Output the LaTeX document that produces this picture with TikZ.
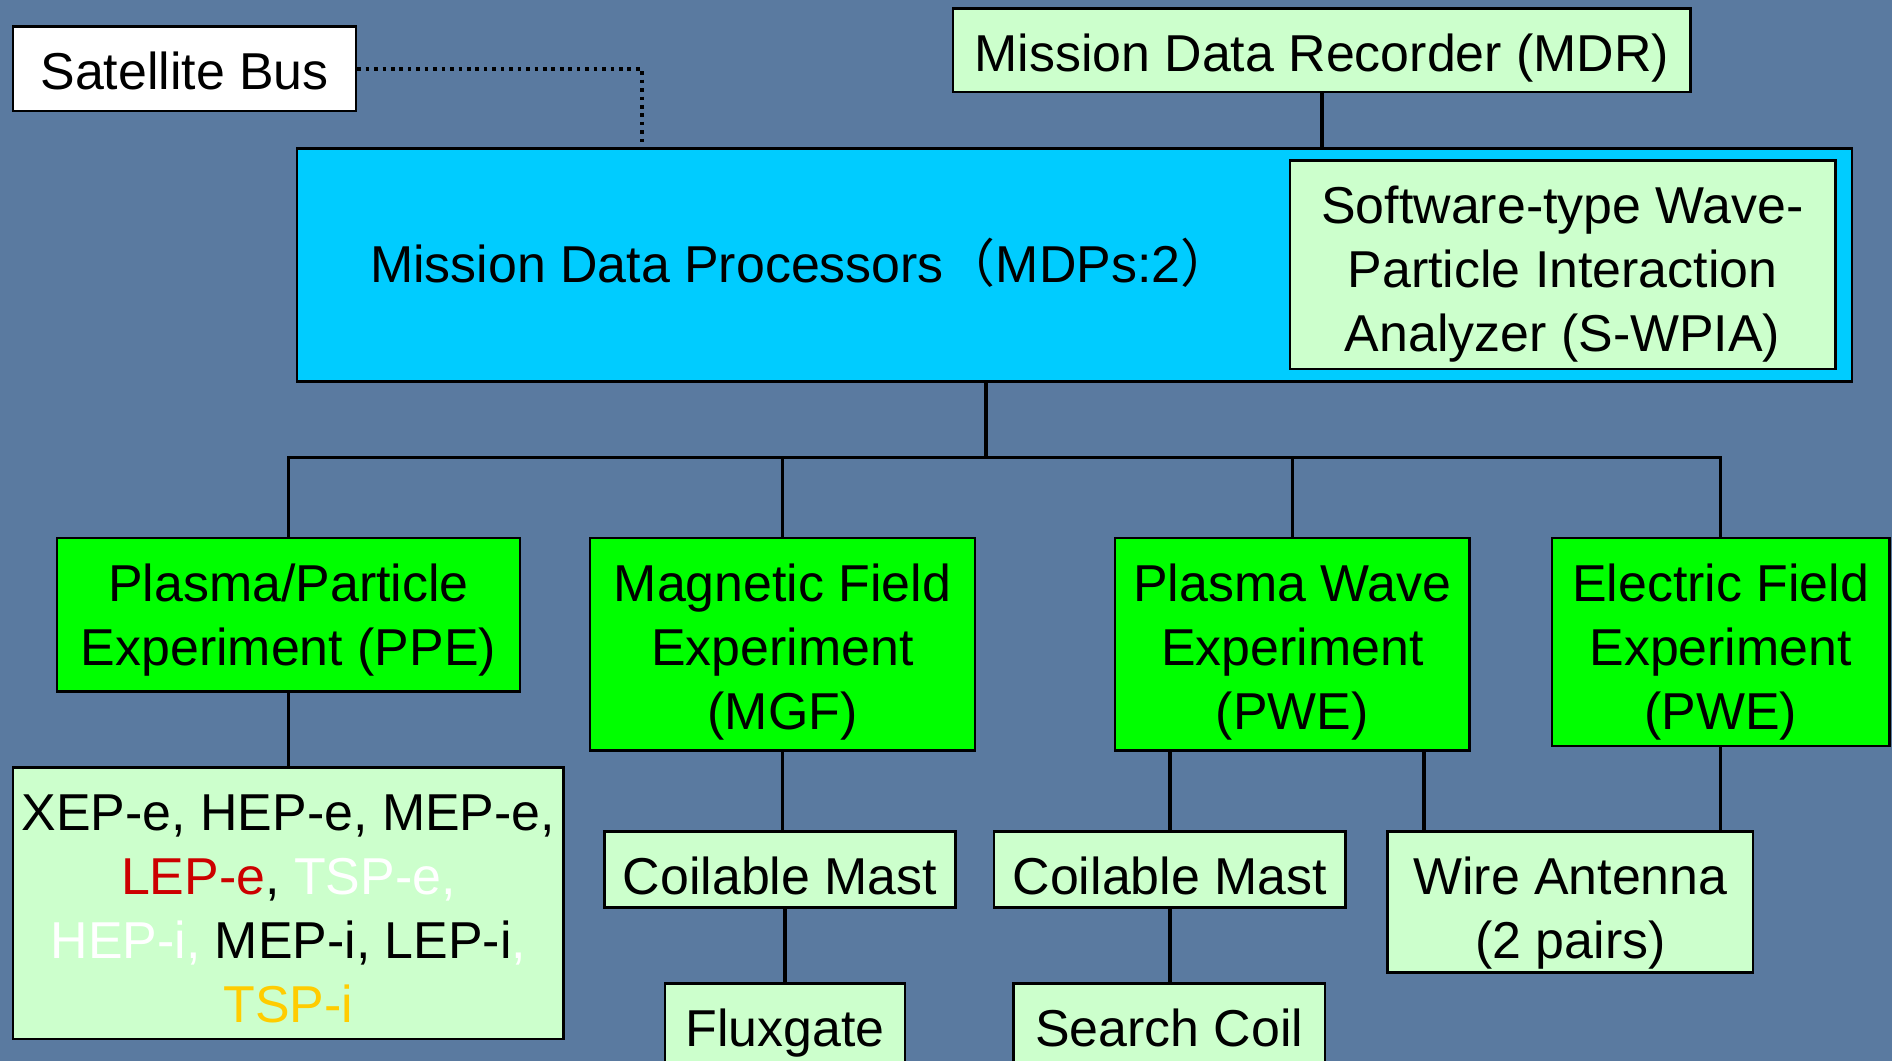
\documentclass[tikz,border=0pt]{standalone}
\usepackage{fontspec}
\setmainfont{Liberation Sans}
\newfontfamily\cjk{Noto Sans CJK SC}
\definecolor{bg}{RGB}{90,122,160}
\definecolor{cyanbox}{RGB}{0,204,255}
\definecolor{greenbox}{RGB}{0,255,0}
\definecolor{palebox}{RGB}{204,255,204}
\definecolor{lepred}{RGB}{204,0,0}
\definecolor{tspgold}{RGB}{255,204,0}
\newcommand\cell[3]{\begin{minipage}[c][#2][t]{#1}\centering\rule{0pt}{26.2pt}#3\end{minipage}}

\begin{document}
\begin{tikzpicture}[x=.5pt,y=-.5pt,
 box/.style={draw=black,line width=1pt,inner sep=0pt,font=\fontsize{21.5}{26.5}\selectfont},
 inst/.style={box,fill=greenbox},
 part/.style={box,fill=palebox},
 link/.style={line width=1.5pt}]
 \useasboundingbox (0,0) rectangle (1568,879);
 \clip (0,0) rectangle (1568,879);
 \fill[bg] (0,0) rectangle (1568,879);
 \node[box,fill=white] (sbus) at (153,57) {\cell{142pt}{35pt}{Satellite Bus}};
 \node[part] (mdr) at (1095.5,41.5) {\cell{305.5pt}{34.5pt}{Mission Data Recorder (MDR)}};
 \node[box,fill=cyanbox,minimum width=644.5pt,minimum height=96.5pt] (mdp) at (890.5,219.5) {};
 \node[font=\fontsize{21.5}{26.5}\selectfont] (mdptext) at (664,218) {Mission Data Processors{\cjk （}MDPs:2{\cjk ）}};
 \node[part] (swpia) at (1295,219.5) {\cell{226pt}{86.5pt}{Software-type Wave-\\Particle Interaction\\Analyzer (S-WPIA)}};
 \node[inst] (ppe) at (239,509.5) {\cell{192pt}{63.5pt}{Plasma/Particle\\Experiment (PPE)}};
 \node[inst] (mgf) at (648.5,534) {\cell{159.5pt}{88pt}{Magnetic Field\\Experiment\\(MGF)}};
 \node[inst] (pwe) at (1071,534) {\cell{147pt}{88pt}{Plasma Wave\\Experiment\\(PWE)}};
 \node[inst] (efe) at (1426,532) {\cell{140pt}{86pt}{Electric Field\\Experiment\\(PWE)}};
 \node[part] (list) at (239,748.5) {\cell{228pt}{112.5pt}{XEP-e, HEP-e, MEP-e,\\\textcolor{lepred}{LEP-e}, \textcolor{white}{TSP-e,}\\\textcolor{white}{HEP-i,} MEP-i, LEP-i\textcolor{white}{,}\\\textcolor{tspgold}{TSP-i}}};
 \node[part] (cmmgf) at (646.5,720.5) {\cell{145.5pt}{31.5pt}{Coilable Mast}};
 \node[part] (flux) at (650.5,853) {\cell{99.5pt}{38pt}{Fluxgate}};
 \node[part] (cmpwe) at (969.5,720.5) {\cell{145.5pt}{31.5pt}{Coilable Mast}};
 \node[part] (coil) at (969,853) {\cell{129pt}{38pt}{Search Coil}};
 \node[part] (wire) at (1301.5,747.5) {\cell{151.5pt}{58.5pt}{Wire Antenna\\(2 pairs)}};
 \coordinate (tap) at (532,123);
 \coordinate (bus) at (817,379);
 \coordinate (wtap) at (1180,689);
 \draw[dotted,line width=1.5pt] (sbus.east) -| (tap);
 \draw[link] (mdr.south) -- (mdr.south |- mdp.north);
 \draw[link] (bus |- mdp.south) -- (bus);
 \draw[link] (ppe.north) |- (bus) -| (efe.north);
 \draw[link] (mgf.north) -- (mgf.north |- bus);
 \draw[link] (pwe.north) -- (pwe.north |- bus);
 \draw[link] (ppe.south) -- (ppe.south |- list.north);
 \draw[link] (mgf.south) -- (mgf.south |- cmmgf.north);
 \draw[link] (cmmgf.south -| flux.north) -- (flux.north);
 \draw[link] (cmpwe.north |- pwe.south) -- (cmpwe.north);
 \draw[link] (cmpwe.south) -- (cmpwe.south |- coil.north);
 \draw[link] (wtap |- pwe.south) -- (wtap);
 \draw[link] (efe.south) -- (efe.south |- wire.north);
\end{tikzpicture}
\end{document}
